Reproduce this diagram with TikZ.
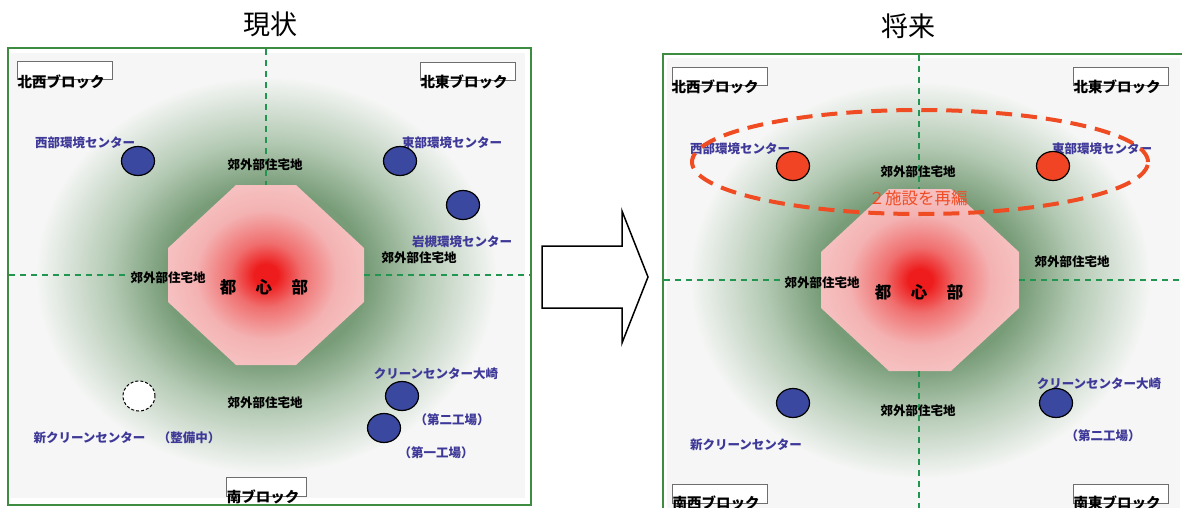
\documentclass[tikz,border=0pt]{standalone}
\usepackage{fontspec}
\setmainfont{Noto Sans CJK JP}
\usetikzlibrary{shapes.geometric}
\definecolor{bgc}{RGB}{245,246,245}
\definecolor{gd}{RGB}{120,156,120}
\definecolor{gm}{RGB}{180,202,180}
\definecolor{cred}{RGB}{238,28,28}
\definecolor{cmid}{RGB}{240,110,110}
\definecolor{cpink}{RGB}{244,178,178}
\definecolor{cpinkb}{RGB}{246,192,192}
\definecolor{pgreen}{RGB}{62,140,66}
\definecolor{dgreen}{RGB}{34,150,80}
\definecolor{lblue}{RGB}{62,56,152}
\definecolor{fblue}{RGB}{58,72,160}
\definecolor{fred}{RGB}{240,68,36}
\definecolor{ringred}{RGB}{240,76,36}
\definecolor{boxgray}{RGB}{110,110,110}
\pgfdeclareradialshading{glow}{\pgfpoint{0bp}{0bp}}{color(0bp)=(gd); color(11bp)=(gd); color(17bp)=(gm); color(25bp)=(bgc); color(50bp)=(bgc)}
\pgfdeclareradialshading{cityred}{\pgfpoint{0bp}{0bp}}{color(0bp)=(cred); color(3bp)=(cred); color(9bp)=(cmid); color(18bp)=(cpink); color(25bp)=(cpinkb); color(50bp)=(cpinkb)}
\begin{document}
\begin{tikzpicture}[x=1pt,y=-1pt,
  panel/.style={draw=pgreen, line width=1.6pt},
  divider/.style={draw=dgreen, dash pattern=on 6pt off 5pt, line width=1.6pt},
  bluefac/.style={ellipse, draw=black, line width=1.2pt, fill=fblue, minimum width=33pt, minimum height=29pt, inner sep=0pt},
  redfac/.style={bluefac, fill=fred},
  newfac/.style={ellipse, draw=black, line width=1pt, dash pattern=on 3pt off 2pt, fill=white, minimum width=32pt, minimum height=30pt, inner sep=0pt},
  lbl/.style={text=lblue, font=\bfseries\fontsize{12.5}{13}\selectfont, inner sep=0pt},
  area/.style={text=black, font=\bfseries\fontsize{12.5}{13}\selectfont, inner sep=0pt},
  cbd/.style={text=black, font=\bfseries\fontsize{16.5}{17}\selectfont, inner sep=0pt},
  blockbox/.style={draw=boxgray, fill=white, line width=0.8pt, minimum width=95pt, minimum height=18pt, inner sep=0pt},
  blocktxt/.style={text=black, font=\bfseries\fontsize{14.5}{15}\selectfont, inner sep=0pt},
  titletxt/.style={text=black, font=\fontsize{27}{28}\selectfont, inner sep=0pt},
  redring/.style={draw=ringred, line width=4pt, dash pattern=on 16pt off 9pt},
  bigarrow/.style={draw=black, line width=1.5pt, fill=white, line join=miter}]
\useasboundingbox (0,0) rectangle (1182,508);
\clip (0,0) rectangle (1182,508);
\fill[white] (0,0) rectangle (1182,508);

% ================= LEFT PANEL =================
\node[titletxt] (t1) at (270,24) {現状};
\fill[bgc] (10,53) rectangle (525,498);
\begin{scope}
  \clip (10,53) rectangle (525,498);
  \shade[shading=glow] (266,275) ellipse [x radius=230pt, y radius=198pt];
\end{scope}
\draw[panel] (8,48) rectangle (531,505);
\shade[shading=cityred] (236,185) -- (296,185) -- (364,248) -- (364,302) -- (296,365) -- (236,365) -- (168,302) -- (168,248) -- cycle;
\coordinate (lvt) at (266,49);
\coordinate (lvb) at (266,185);
\coordinate (lhl) at (9,275);
\coordinate (lhm) at (128,275);
\coordinate (lhr) at (364,275);
\coordinate (lhe) at (530,275);
\draw[divider] (lvt) -- (lvb);
\draw[divider] (lhl) -- (lhm);
\draw[divider] (lhr) -- (lhe);

\node[blockbox] (lnwb) at (64.5,70.5) {};
\node[blocktxt] (lnw) at (61,82) {北西ブロック};
\node[blockbox] (lneb) at (467.5,71) {};
\node[blocktxt] (lne) at (464,82) {北東ブロック};
\node[blockbox, minimum width=80pt, minimum height=19pt] (lsb) at (266,486.5) {};
\node[blocktxt] (ls) at (263,497) {南ブロック};

\node[lbl] (lwl) at (85,143) {西部環境センター};
\node[lbl] (lel) at (452,143) {東部環境センター};
\node[lbl] (lil) at (462,242) {岩槻環境センター};
\node[lbl] (lol) at (436,374) {クリーンセンター大崎};
\node[lbl] (l2l) at (452,420) {（第二工場）};
\node[lbl] (l1l) at (436,453) {（第一工場）};
\node[lbl] (lnl) at (127,438) {新クリーンセンター　（整備中）};

\node[area] (lat) at (265,165) {郊外部住宅地};
\node[area] (lar) at (419,258) {郊外部住宅地};
\node[area] (lal) at (168,278) {郊外部住宅地};
\node[area] (lab) at (265,403) {郊外部住宅地};
\node[cbd] (lc) at (264,287) {都\hspace{19.5pt}心\hspace{19.5pt}部};

\node[bluefac] (lw) at (138,161) {};
\node[bluefac] (le) at (400,161) {};
\node[bluefac] (li) at (463,205) {};
\node[newfac] (ln) at (139,396) {};
\node[bluefac] (lo) at (402,396) {};
\node[bluefac] (l1) at (384,428) {};

% ================= ARROW =================
\draw[bigarrow] (542,246) -- (622,246) -- (622,211) -- (648,277) -- (622,343) -- (622,308) -- (542,308) -- cycle;

% ================= RIGHT PANEL =================
\node[titletxt] (t2) at (908,26) {将来};
\fill[bgc] (667,58) rectangle (1180,508);
\begin{scope}
  \clip (667,58) rectangle (1180,508);
  \shade[shading=glow] (920,280) ellipse [x radius=230pt, y radius=198pt];
\end{scope}
\draw[panel] (663,510) -- (663,54) -- (1184,54);
\shade[shading=cityred] (889,189) -- (951,189) -- (1019,252) -- (1019,308) -- (951,371) -- (889,371) -- (821,308) -- (821,252) -- cycle;
\coordinate (rvt) at (919,55);
\coordinate (rvm) at (919,189);
\coordinate (rvn) at (919,371);
\coordinate (rvb) at (919,510);
\coordinate (rhl) at (664,280);
\coordinate (rhm) at (783,280);
\coordinate (rhr) at (1019,280);
\coordinate (rhe) at (1184,280);
\draw[divider] (rvt) -- (rvm);
\draw[divider] (rvn) -- (rvb);
\draw[divider] (rhl) -- (rhm);
\draw[divider] (rhr) -- (rhe);

\node[blockbox] (rnwb) at (719.5,76) {};
\node[blocktxt] (rnw) at (715,87) {北西ブロック};
\node[blockbox] (rneb) at (1120.5,76) {};
\node[blocktxt] (rne) at (1117,87) {北東ブロック};
\node[blockbox, minimum height=19pt] (rswb) at (719.5,493.5) {};
\node[blocktxt] (rsw) at (716,503) {南西ブロック};
\node[blockbox, minimum height=19pt] (rseb) at (1121,493.5) {};
\node[blocktxt] (rse) at (1117,503) {南東ブロック};

\node[lbl] (rwl) at (740,149) {西部環境センター};
\node[lbl] (rel) at (1102,149) {東部環境センター};
\node[lbl] (rol) at (1099,384) {クリーンセンター大崎};
\node[lbl] (r2l) at (1103,436) {（第二工場）};
\node[lbl] (rnl) at (746,445) {新クリーンセンター};

\node[area] (rat) at (918,172) {郊外部住宅地};
\node[area] (rar) at (1072,262) {郊外部住宅地};
\node[area] (ral) at (822,283) {郊外部住宅地};
\node[area] (rab) at (918,411) {郊外部住宅地};
\node[cbd] (rc) at (919,292) {都\hspace{19.5pt}心\hspace{19.5pt}部};

\node[text=ringred, font=\fontsize{16.5}{17}\selectfont, inner sep=0pt] (rre) at (918,198) {２施設を再編};
\draw[redring] (920,162) ellipse [x radius=228pt, y radius=52pt];

\node[redfac] (rw) at (793,166) {};
\node[redfac] (re) at (1053,166) {};
\node[bluefac] (rn) at (793,403) {};
\node[bluefac] (ro) at (1056,403) {};
\end{tikzpicture}
\end{document}
